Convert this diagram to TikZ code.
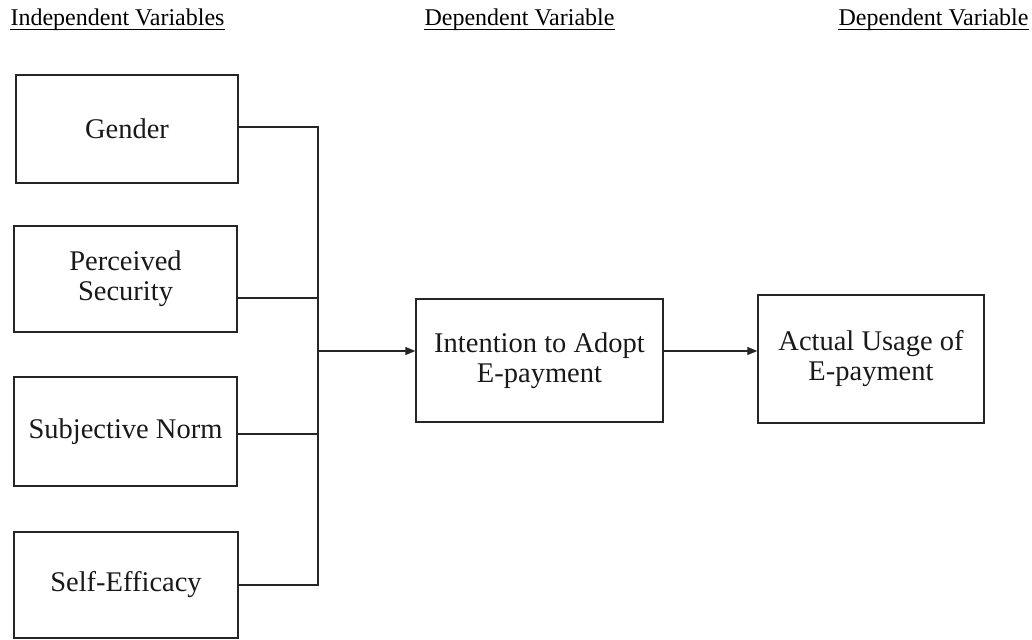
\documentclass[tikz,border=0pt]{standalone}
\usepackage{fontspec}
\setmainfont{Liberation Serif}
\usetikzlibrary{arrows.meta}
\begin{document}
\begin{tikzpicture}[x=1pt,y=-1pt,
  box/.style={draw=black!85, line width=1.4pt, rectangle, inner sep=2pt, align=center,
    font=\fontsize{28.5}{30}\selectfont, text=black!90},
  hdr/.style={inner sep=0pt, anchor=base, font=\fontsize{24}{28}\selectfont, text=black},
  uline/.style={line width=1.3pt, black},
  conn/.style={draw=black!85, line width=1.2pt},
  arr/.style={conn, -{Triangle[length=10pt,width=8pt]}}]
\useasboundingbox (0,0) rectangle (1032,639);
% headers
\node[hdr] (h1) at (117.5,26) {Independent Variables};
\node[hdr] (h2) at (519.5,26) {Dependent Variable};
\node[hdr] (h3) at (933.5,26) {Dependent Variable};
\foreach \h in {h1,h2,h3}{
  \draw[uline] ([yshift=-3.5pt]\h.base west) -- ([yshift=-3.5pt]\h.base east);
}
% boxes
\node[box, minimum width=222pt, minimum height=108pt] (gender) at (127,129) {Gender};
\node[box, minimum width=223pt, minimum height=106pt] (perc) at (125.5,279) {Perceived\\Security};
\node[box, minimum width=223pt, minimum height=109pt] (subj) at (125.5,431.5) {Subjective Norm};
\node[box, minimum width=224pt, minimum height=106pt] (self) at (126,585) {Self-Efficacy};
\node[box, minimum width=247pt, minimum height=123pt] (intent) at (539.5,360.5) {Intention to Adopt\\E-payment};
\node[box, minimum width=226pt, minimum height=128pt] (actual) at (871,359) {Actual Usage of\\E-payment};
% bus coordinates
\coordinate (b1) at (318,127);
\coordinate (b2) at (318,298);
\coordinate (b3) at (318,434);
\coordinate (b4) at (318,585);
\coordinate (j) at (318,351);
% connectors
\draw[conn] (gender.east |- b1) -- (b1) -- (b4) -- (self.east |- b4);
\draw[conn] (perc.east |- b2) -- (b2);
\draw[conn] (subj.east |- b3) -- (b3);
\draw[arr] (j) -- (j -| intent.west);
\draw[arr] (intent.east |- j) -- (j -| actual.west);
\end{tikzpicture}
\end{document}
